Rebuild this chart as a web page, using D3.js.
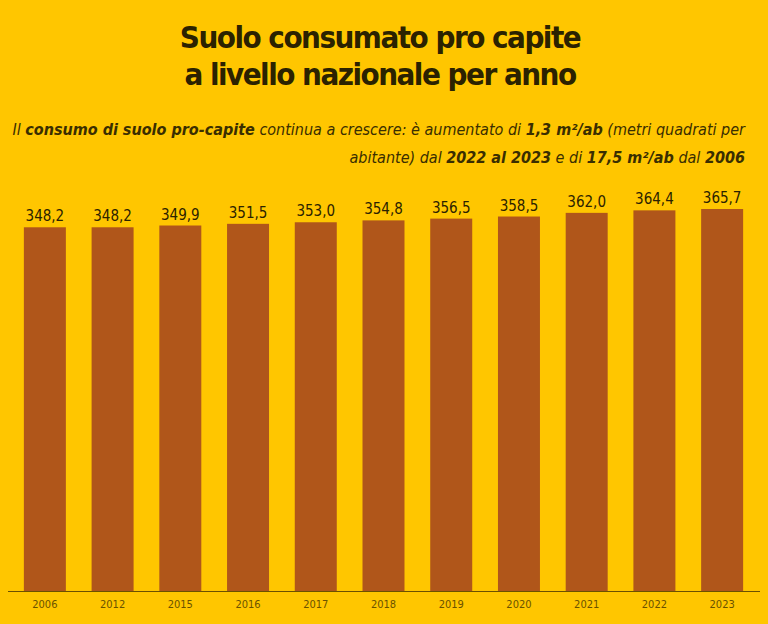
<!DOCTYPE html><html><head><meta charset="utf-8"><script src="https://cdn.jsdelivr.net/npm/d3@7"></script>
<style>body{margin:0;background:#FFC600}svg{display:block}</style></head><body><svg id="c" width="768" height="624"></svg>
<script>
const years=["2006","2012","2015","2016","2017","2018","2019","2020","2021","2022","2023"];
const values=[348.2,348.2,349.9,351.5,353.0,354.8,356.5,358.5,362.0,364.4,365.7];
const svg=d3.select("#c");
svg.append("rect").attr("width",768).attr("height",624).attr("fill","#FFC600");
const x=d3.scaleBand().domain(years).range([11,756]).paddingInner(0.38).paddingOuter(0.19);
const y=d3.scaleLinear().domain([0,365.7]).range([591,209]);
const fmt=v=>v.toFixed(1).replace(".",",");
svg.selectAll("rect.b").data(values).join("rect").attr("class","b")
 .attr("x",(d,i)=>x(years[i])).attr("width",x.bandwidth()).attr("y",d=>y(d)).attr("height",d=>y(0)-y(d)).attr("fill","#B0561A");
svg.selectAll("text.v").data(values).join("text").attr("class","v")
 .attr("x",(d,i)=>x(years[i])+x.bandwidth()/2).attr("y",d=>y(d)-6).attr("text-anchor","middle")
 .attr("font-family","DejaVu Sans Condensed, DejaVu Sans").attr("font-size",15).attr("fill","#2b2200").text(fmt);
const ax=svg.append("g").attr("transform","translate(0,591)").call(d3.axisBottom(x).tickSize(0).tickPadding(9));
ax.select(".domain").remove();
svg.append("line").attr("x1",8).attr("x2",760).attr("y1",591.5).attr("y2",591.5).attr("stroke","#6b5000").attr("stroke-width",1);
ax.selectAll("text").attr("font-family","DejaVu Sans Condensed, DejaVu Sans").attr("font-size",11).attr("fill","#6b5200");
const t=svg.append("g").attr("font-family","DejaVu Sans Condensed, DejaVu Sans").attr("font-weight","bold").attr("font-size",31).attr("fill","#2b2200").attr("text-anchor","middle");
t.append("text").attr("x",380).attr("y",48).attr("letter-spacing",-1.5).text("Suolo consumato pro capite");
t.append("text").attr("x",380).attr("y",85).attr("letter-spacing",-1.5).text("a livello nazionale per anno");
const s=svg.append("g").attr("font-family","DejaVu Sans Condensed, DejaVu Sans").attr("font-style","italic").attr("font-size",16).attr("fill","#3a2e00").attr("text-anchor","end");
const l1=s.append("text").attr("x",745).attr("y",135);
[["Il ",0],["consumo di suolo pro-capite",1],[" continua a crescere: è aumentato di ",0],["1,3 m²/ab",1],[" (metri quadrati per",0]].forEach(([a,b])=>l1.append("tspan").attr("font-weight",b?"bold":"normal").text(a));
const l2=s.append("text").attr("x",745).attr("y",163);
[["abitante) dal ",0],["2022 al 2023",1],[" e di ",0],["17,5 m²/ab",1],[" dal ",0],["2006",1]].forEach(([a,b])=>l2.append("tspan").attr("font-weight",b?"bold":"normal").text(a));
</script></body></html>
